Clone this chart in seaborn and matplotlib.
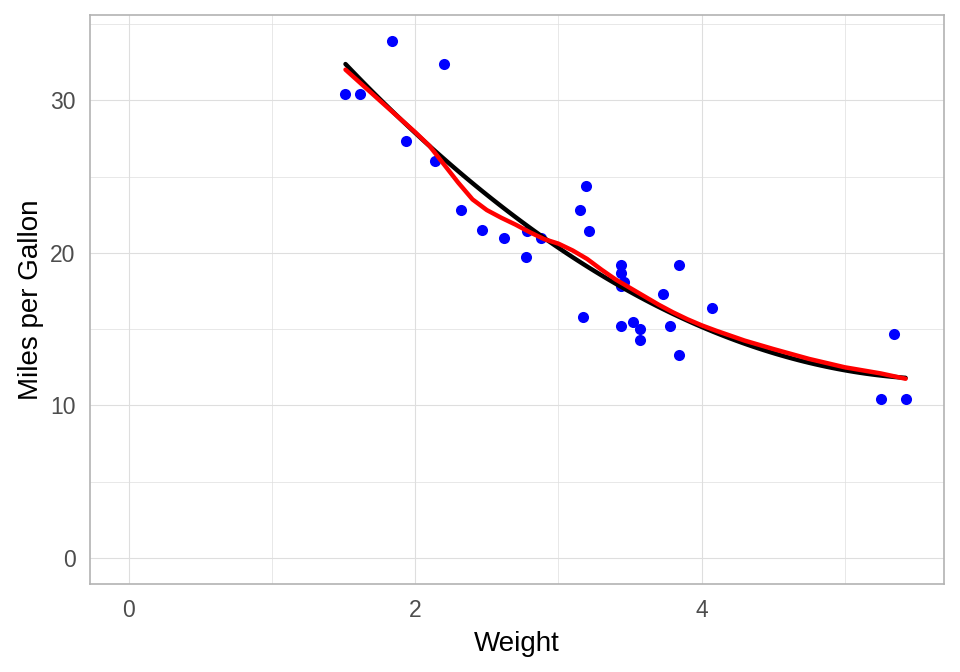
import numpy as np
import pandas as pd
import seaborn as sns
import matplotlib.pyplot as plt

# mtcars: weight (1000 lbs) and miles per gallon
wt = [2.620, 2.875, 2.320, 3.215, 3.440, 3.460, 3.570, 3.190, 3.150, 3.440,
      3.440, 4.070, 3.730, 3.780, 5.250, 5.424, 5.345, 2.200, 1.615, 1.835,
      2.465, 3.520, 3.435, 3.840, 3.845, 1.935, 2.140, 1.513, 3.170, 2.770,
      3.570, 2.780]
mpg = [21.0, 21.0, 22.8, 21.4, 18.7, 18.1, 14.3, 24.4, 22.8, 19.2,
       17.8, 16.4, 17.3, 15.2, 10.4, 10.4, 14.7, 32.4, 30.4, 33.9,
       21.5, 15.5, 15.2, 13.3, 19.2, 27.3, 26.0, 30.4, 15.8, 19.7,
       15.0, 21.4]

# smooth (red) curve
smooth_wt = [1.513, 1.75, 2.0, 2.1, 2.2, 2.3, 2.4, 2.5, 2.6, 2.7,
             2.8, 2.9, 3.0, 3.1, 3.2, 3.3, 3.4, 3.5, 3.6, 3.7,
             3.8, 3.9, 4.0, 4.1, 4.3, 4.5, 4.75, 5.0, 5.25, 5.424]
smooth_mpg = [32.0, 30.0, 27.9, 27.0, 25.8, 24.6, 23.5, 22.8, 22.3, 21.85,
              21.35, 20.9, 20.6, 20.15, 19.6, 18.9, 18.25, 17.7, 17.15, 16.6,
              16.1, 15.65, 15.25, 14.9, 14.25, 13.7, 13.05, 12.5, 12.1, 11.75]

df = pd.DataFrame({"wt": wt, "mpg": mpg})
smooth = pd.DataFrame({"wt": smooth_wt, "mpg": smooth_mpg})

sns.set_style("whitegrid")
plt.rcParams['font.family'] = ['Liberation Sans', 'DejaVu Sans']

fig = plt.figure(figsize=(9.6, 6.72), dpi=100)
ax = fig.add_axes([0.09375, 0.131, 0.890, 0.847])

grid_col = "#DEDEDE"
ax.set_xticks([1, 3, 5], minor=True)
ax.set_yticks([5, 15, 25, 35], minor=True)
ax.grid(which="major", color=grid_col, linewidth=0.8)
ax.grid(which="minor", color=grid_col, linewidth=0.5)
ax.set_axisbelow(True)

sns.scatterplot(data=df, x="wt", y="mpg", color="#0000FF", s=64,
                linewidth=0, ax=ax, zorder=2)
sns.regplot(data=df, x="wt", y="mpg", order=2, ci=None, scatter=False,
            color="black", line_kws={"linewidth": 3.2}, ax=ax)
sns.lineplot(data=smooth, x="wt", y="mpg", color="#FF0000", linewidth=3.2,
             ax=ax, zorder=4)

ax.set_xlim(-0.271, 5.695)
ax.set_ylim(-1.695, 35.595)
ax.set_xticks([0, 2, 4])
ax.set_yticks([0, 10, 20, 30])
ax.tick_params(which="major", length=5.5, width=0.8, color="#B3B3B3",
               labelsize=16.5, labelcolor="#4D4D4D", pad=5)
ax.tick_params(which="minor", length=0)
for s in ax.spines.values():
    s.set_color("#B3B3B3")
    s.set_linewidth(1.2)
    s.set_visible(True)

ax.set_xlabel("Weight", fontsize=20, color="black", labelpad=7)
ax.set_ylabel("Miles per Gallon", fontsize=20, color="black", labelpad=4)

fig.savefig("out.png", dpi=100)
